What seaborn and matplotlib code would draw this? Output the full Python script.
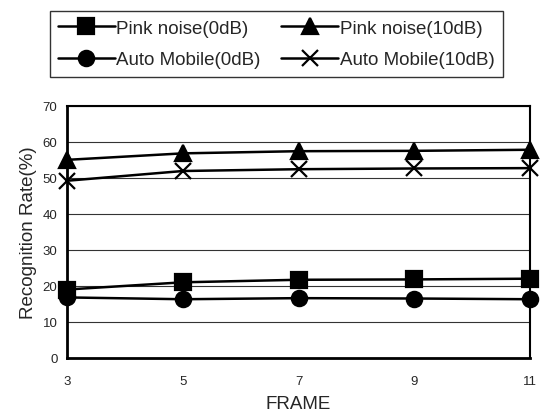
import pandas as pd
import seaborn as sns
import matplotlib.pyplot as plt

# Data
frames = [3, 5, 7, 9, 11]
pink_0db = [19, 21, 21.7, 21.8, 22]
pink_10db = [55, 56.8, 57.4, 57.5, 57.8]
auto_0db = [16.8, 16.3, 16.6, 16.5, 16.3]
auto_10db = [49.2, 51.9, 52.4, 52.6, 52.7]

series_names = ['Pink noise(0dB)', 'Pink noise(10dB)', 'Auto Mobile(0dB)', 'Auto Mobile(10dB)']
series_values = [pink_0db, pink_10db, auto_0db, auto_10db]
series_markers = ['s', '^', 'o', 'x']

sns.set_style('white')
plt.rcParams['font.family'] = ['Liberation Sans', 'DejaVu Sans']

fig = plt.figure(figsize=(5.42, 4.14), dpi=100)
ax = fig.add_axes([0.124, 0.133, 0.854, 0.609])

# draw each series separately (filled and line markers can't be mixed in one call)
for name, vals, mk in zip(series_names, series_values, series_markers):
    d = pd.DataFrame({'FRAME': frames, 'rate': vals})
    sns.lineplot(data=d, x='FRAME', y='rate', marker=mk, color='black',
                 linewidth=1.8, markersize=11, markeredgewidth=1.6,
                 markeredgecolor='black', ax=ax, label=name, clip_on=False)

ax.set_xlim(3, 11)
ax.set_ylim(0, 70)
ax.set_xticks(frames)
ax.set_yticks(range(0, 71, 10))
ax.grid(axis='y', color='#333333', linewidth=0.8)
ax.set_axisbelow(True)
for s in ax.spines.values():
    s.set_color('black')
ax.spines['left'].set_linewidth(2.0)
ax.spines['bottom'].set_linewidth(2.0)
ax.spines['top'].set_linewidth(1.5)
ax.spines['right'].set_linewidth(1.5)
ax.tick_params(axis='both', labelsize=9.5, color='black', width=1)
ax.tick_params(axis='x', length=4, direction='out', pad=8)
ax.tick_params(axis='y', length=0, pad=7)
ax.set_xlabel('FRAME', fontsize=13.5, labelpad=6)
ax.set_ylabel('Recognition Rate(%)', fontsize=13.5, labelpad=4)

handles, labels = ax.get_legend_handles_labels()
ax.get_legend().remove()
# matplotlib fills legend columns first, so reorder to get row-wise layout
order = [0, 2, 1, 3]
leg = fig.legend([handles[i] for i in order], [labels[i] for i in order],
                 ncol=2, loc='upper left',
                 bbox_to_anchor=(0.092, 0.970), fontsize=13.5, frameon=True,
                 fancybox=False, edgecolor='black', handlelength=3.0,
                 handletextpad=0.1, columnspacing=1.1, labelspacing=0.75,
                 borderpad=0.45, borderaxespad=0)
leg.get_frame().set_linewidth(1.0)

fig.savefig('out.png', dpi=100)
